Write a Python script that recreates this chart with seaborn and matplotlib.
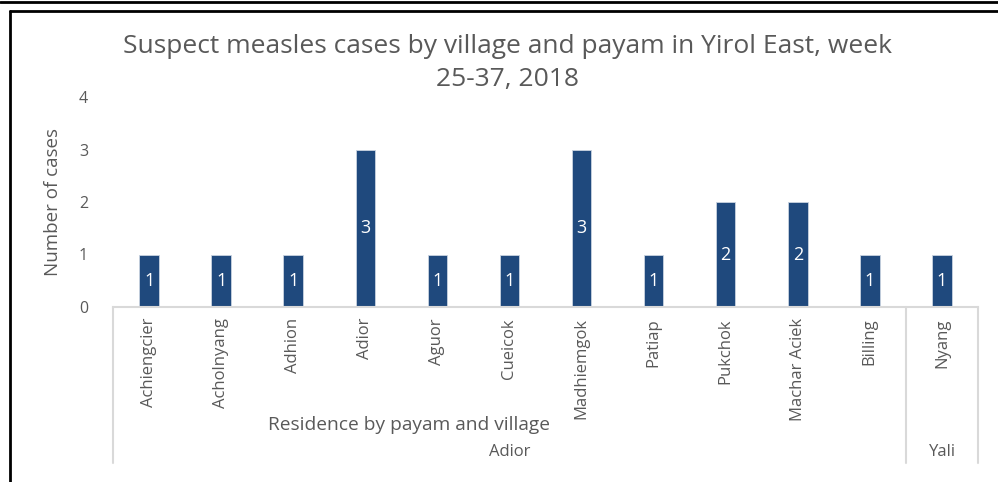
import pandas as pd
import seaborn as sns
import matplotlib.pyplot as plt
from matplotlib.lines import Line2D
import matplotlib.transforms as mtransforms

# data
villages = ['Achiengcier', 'Acholnyang', 'Adhion', 'Adior', 'Aguor', 'Cueicok',
            'Madhiemgok', 'Patiap', 'Pukchok', 'Machar Aciek', 'Billing', 'Nyang']
cases = [1, 1, 1, 3, 1, 1, 3, 1, 2, 2, 1, 1]
payams = ['Adior'] * 11 + ['Yali']

df = pd.DataFrame({'village': villages, 'cases': cases, 'payam': payams})

sns.set_style('white')
plt.rcParams['font.family'] = ['Open Sans', 'DejaVu Sans']
grey = '#595959'
bar_col = '#1F497D'

fig = plt.figure(figsize=(9.98, 4.82), dpi=100)
ax = fig.add_axes([113 / 998, 1 - 307 / 482, (978 - 113) / 998, 210 / 482])

sns.barplot(data=df, x='village', y='cases', color=bar_col, width=0.27,
            saturation=1, edgecolor='#C9D3E0', linewidth=0.6, ax=ax)

# labels inside bars
for i, v in enumerate(df['cases']):
    ax.text(i, v / 2, str(v), color='white', ha='center', va='center', fontsize=13)

ax.set_xlim(-0.5, len(villages) - 0.5)
ax.set_ylim(0, 4)
ax.set_yticks(range(0, 5))
ax.tick_params(axis='y', length=0, labelsize=11.5, labelcolor=grey, pad=18)
ax.tick_params(axis='x', length=0, labelsize=12, labelcolor=grey, pad=8)
ax.set_xticks(range(len(villages)))
ax.set_xticklabels(villages, rotation=90, va='top')
ax.set_xlabel('')
ax.set_ylabel('Number of cases', fontsize=13.5, color=grey, labelpad=12)

for s in ['top', 'right', 'left']:
    ax.spines[s].set_visible(False)
ax.spines['bottom'].set_color('#D9D9D9')
ax.spines['bottom'].set_linewidth(1.5)

# group separators and payam labels
trans = mtransforms.blended_transform_factory(ax.transData, ax.transAxes)
sep_bottom = -(463 - 307) / 210
for xs in [-0.5, 10.5, 11.5]:
    ax.plot([xs, xs], [0, sep_bottom], transform=trans, color='#D9D9D9',
            lw=1.5, clip_on=False)

groups = df.groupby('payam', sort=False).apply(lambda g: g.index.to_numpy())
for name, idx in groups.items():
    ax.text((idx.min() + idx.max()) / 2, -(452 - 307) / 210, name,
            transform=trans, ha='center', va='center', fontsize=12, color=grey)

ax.text(3.6, -(425 - 307) / 210, 'Residence by payam and village', transform=trans,
        ha='center', va='center', fontsize=13.8, color=grey)

fig.text(508 / 998, 1 - 63 / 482,
         'Suspect measles cases by village and payam in Yirol East, week\n25-37, 2018',
         ha='center', va='center', fontsize=19, color=grey, linespacing=1.45)

# outer frame lines
fig.add_artist(Line2D([0, 1], [1 - 2 / 482, 1 - 2 / 482], color='black', lw=2))
fig.add_artist(Line2D([10 / 998, 1], [1 - 11 / 482, 1 - 11 / 482], color='black', lw=2))
fig.add_artist(Line2D([10 / 998, 10 / 998], [0, 1 - 11 / 482], color='black', lw=2))

fig.savefig('out.png', dpi=100)
